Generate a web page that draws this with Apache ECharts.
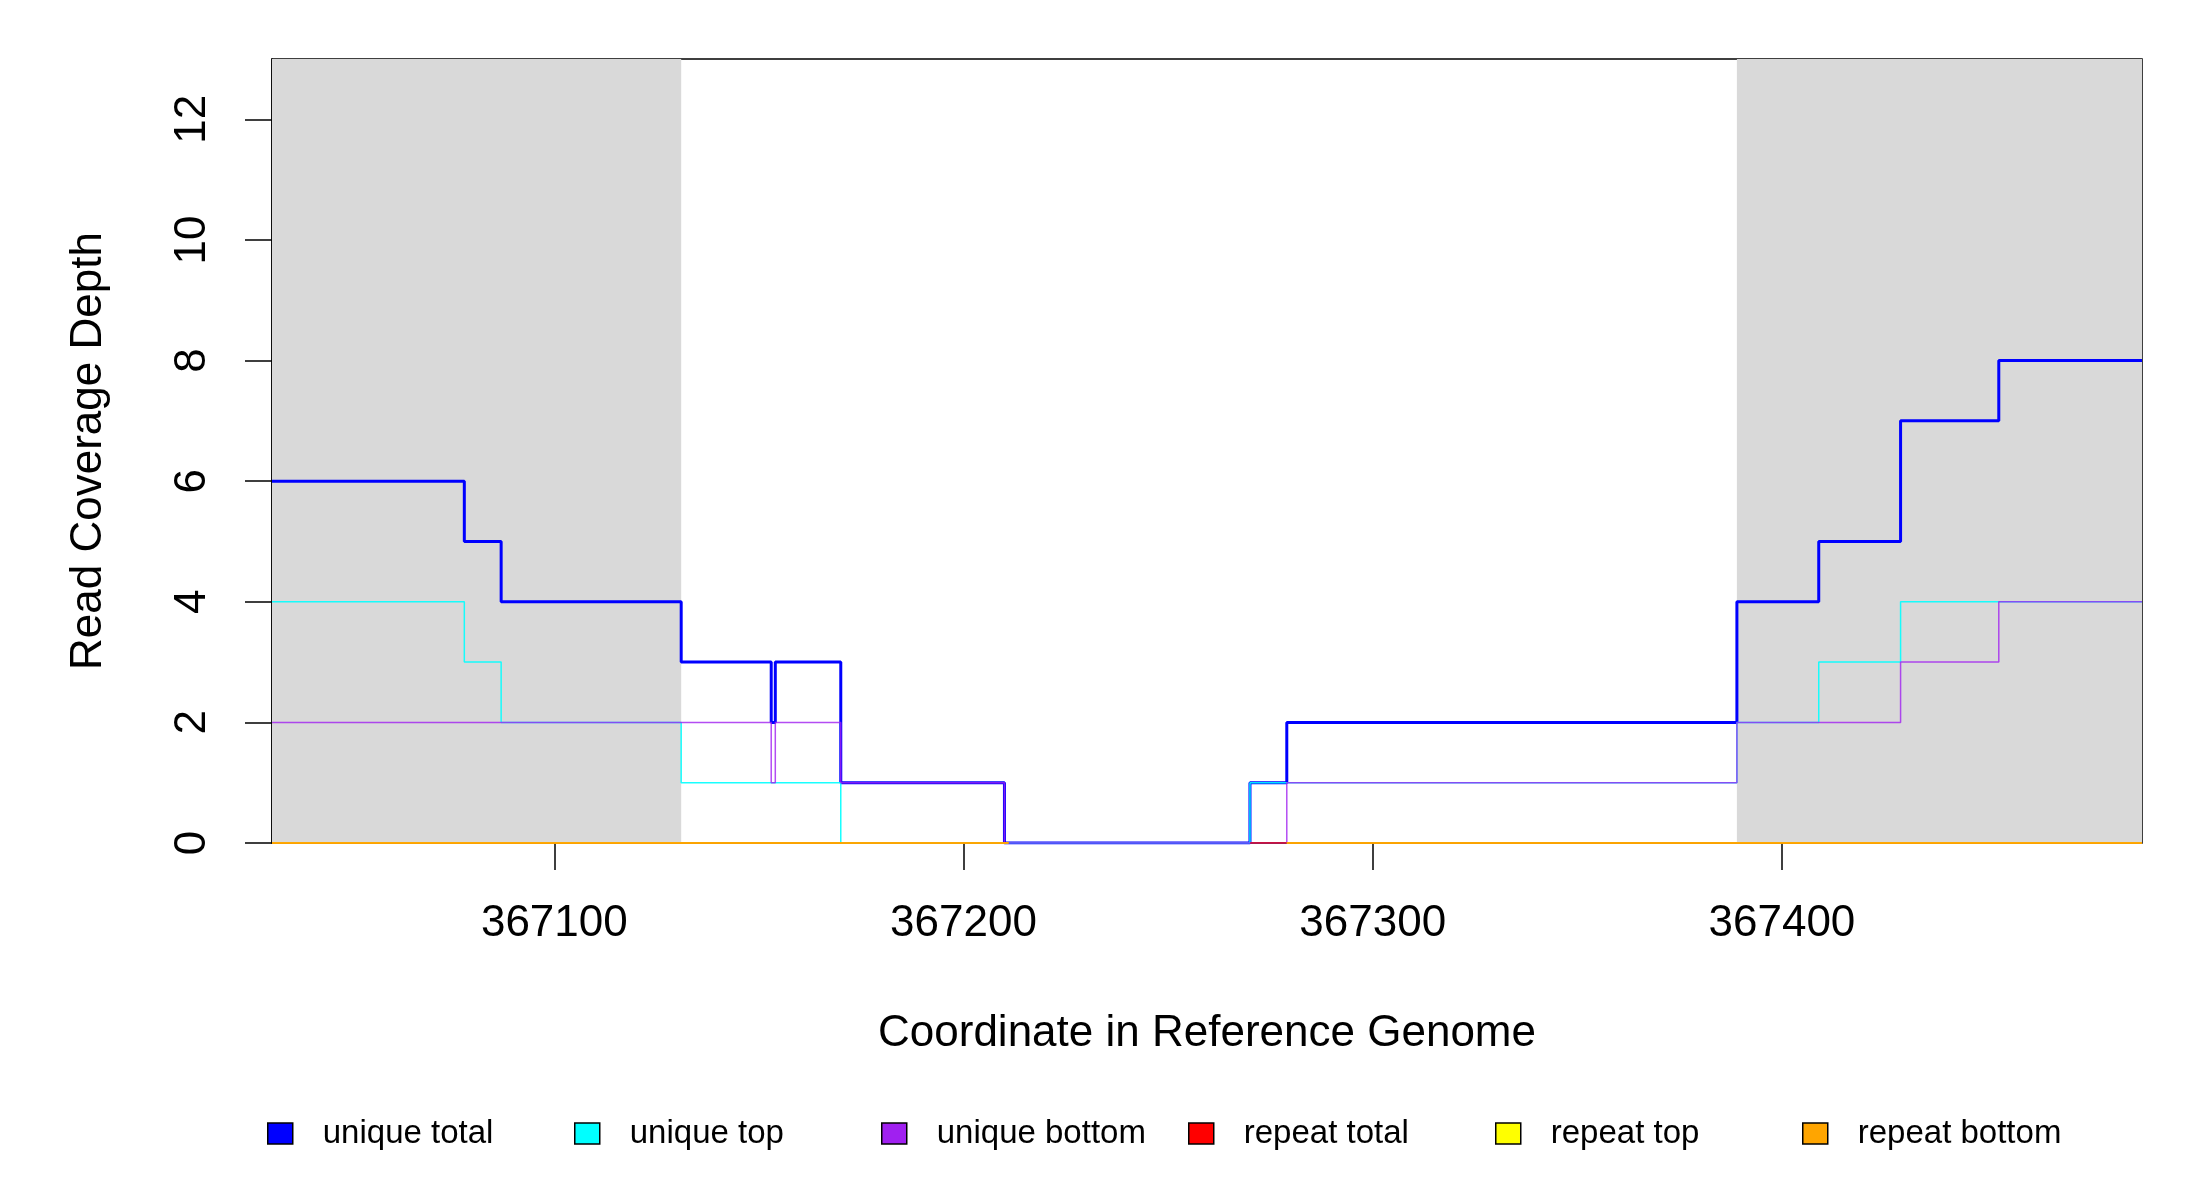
<!DOCTYPE html>
<html>
<head>
<meta charset="utf-8">
<title>Read Coverage Depth</title>
<script src="https://cdn.jsdelivr.net/npm/echarts@6.0.0/dist/echarts.min.js"></script>
<style>
    html, body { margin: 0; padding: 0; background: #fff; }
    #chart { width: 2200px; height: 1200px; }
</style>
</head>
<body>
<div id="chart"></div>
<script>
// coordinate range of the window
var xStart = 367031;
var xEnd = 367488;
var xTicks = [367100, 367200, 367300, 367400];
var yTicks = [0, 2, 4, 6, 8, 10, 12];

// shaded features (start, end)
var shadedRegions = [
    [367031, 367131],
    [367389, 367488]
];

// step breakpoints: value holds from x[i] until x[i+1]
var uniqueTotalX = [367031, 367078, 367087, 367131, 367153, 367154, 367170, 367210, 367270, 367279, 367389, 367409, 367429, 367453, 367488];
var uniqueTotalY = [6, 5, 4, 3, 2, 3, 1, 0, 1, 2, 4, 5, 7, 8, 8];

var uniqueTopX = [367031, 367078, 367087, 367131, 367170, 367270, 367389, 367409, 367429, 367488];
var uniqueTopY = [4, 3, 2, 1, 0, 1, 2, 3, 4, 4];

var uniqueBottomX = [367031, 367153, 367154, 367170, 367210, 367279, 367389, 367429, 367453, 367488];
var uniqueBottomY = [2, 1, 2, 1, 0, 1, 2, 3, 4, 4];

var repeatTotalX = [367031, 367210, 367211, 367270, 367488];
var repeatTotalY = [0, 0, null, 0, 0];

var repeatTopX = [367031, 367210, 367211, 367279, 367488];
var repeatTopY = [0, 0, null, 0, 0];

var repeatBottomX = [367031, 367210, 367211, 367279, 367488];
var repeatBottomY = [0, 0, null, 0, 0];

var seriesNames = ["unique total", "unique top", "unique bottom", "repeat total", "repeat top", "repeat bottom"];
var seriesColors = ["#0000FF", "#00FFFF", "#A020F0", "#FF0000", "#FFFF00", "#FFA500"];

var FONT = "Liberation Sans, Arial, sans-serif";

function zip(xs, ys) {
    var out = [];
    for (var i = 0; i < xs.length; i++) {
        out.push([xs[i], ys[i]]);
    }
    return out;
}

function stepSeries(idx, xs, ys, width, opacity) {
    return {
        name: seriesNames[idx],
        type: "line",
        step: "end",
        z: 3 + idx,
        showSymbol: false,
        symbol: "none",
        animation: false,
        silent: true,
        itemStyle: { color: seriesColors[idx] },
        lineStyle: { color: seriesColors[idx], width: width, opacity: opacity },
        data: zip(xs, ys)
    };
}

// one legend box per item so they sit on an even spacing like the R legend
var legends = seriesNames.map(function(name, i) {
    return {
        data: [name],
        left: 267 + i * 307,
        top: 1117,
        padding: 0,
        icon: "rect",
        itemWidth: 25,
        itemHeight: 21,
        itemStyle: { borderColor: "#000", borderWidth: 1.5 },
        textStyle: {
            fontFamily: FONT,
            fontSize: 33,
            color: "#000",
            padding: [0, 0, 0, 25]
        },
        selectedMode: false
    };
});

var chart = echarts.init(document.getElementById("chart"));

var option = {
    backgroundColor: "#fff",
    animation: false,
    grid: {
        left: 272,
        right: 58,
        top: 59,
        bottom: 357,
        show: true,
        borderColor: "#000",
        borderWidth: 1.5,
        backgroundColor: "#fff"
    },
    legend: legends,
    xAxis: {
        type: "value",
        min: xStart,
        max: xEnd,
        name: "Coordinate in Reference Genome",
        nameLocation: "middle",
        nameGap: 169,
        nameTextStyle: { fontFamily: FONT, fontSize: 44, color: "#000" },
        axisLine: { show: false },
        splitLine: { show: false },
        axisTick: {
            show: true,
            customValues: xTicks,
            length: 27,
            lineStyle: { color: "#000", width: 1.5 }
        },
        axisLabel: {
            customValues: xTicks,
            margin: 59,
            fontFamily: FONT,
            fontSize: 44,
            color: "#000",
            formatter: function(v) { return String(v); }
        }
    },
    yAxis: {
        type: "value",
        min: 0,
        max: 13,
        name: "Read Coverage Depth",
        nameLocation: "middle",
        nameRotate: 90,
        nameGap: 161,
        nameTextStyle: { fontFamily: FONT, fontSize: 44, color: "#000" },
        axisLine: { show: true, lineStyle: { color: "#000", width: 1.5 } },
        splitLine: { show: false },
        axisTick: {
            show: true,
            customValues: yTicks,
            length: 27,
            lineStyle: { color: "#000", width: 1.5 }
        },
        axisLabel: {
            customValues: yTicks,
            rotate: 90,
            margin: 57,
            fontFamily: FONT,
            fontSize: 44,
            color: "#000"
        }
    },
    series: [
        {
            name: "features",
            type: "line",
            z: 1,
            data: [],
            silent: true,
            markArea: {
                silent: true,
                itemStyle: { color: "#D9D9D9" },
                data: shadedRegions.map(function(r) {
                    return [{ xAxis: r[0] }, { xAxis: r[1] }];
                })
            }
        },
        stepSeries(0, uniqueTotalX, uniqueTotalY, 3, 1),
        stepSeries(1, uniqueTopX, uniqueTopY, 1.5, 0.9),
        stepSeries(2, uniqueBottomX, uniqueBottomY, 1.5, 0.8),
        stepSeries(3, repeatTotalX, repeatTotalY, 1.5, 0.8),
        stepSeries(4, repeatTopX, repeatTopY, 1.5, 0.8),
        stepSeries(5, repeatBottomX, repeatBottomY, 2, 0.9)
    ]
};

chart.setOption(option);
</script>
</body>
</html>
